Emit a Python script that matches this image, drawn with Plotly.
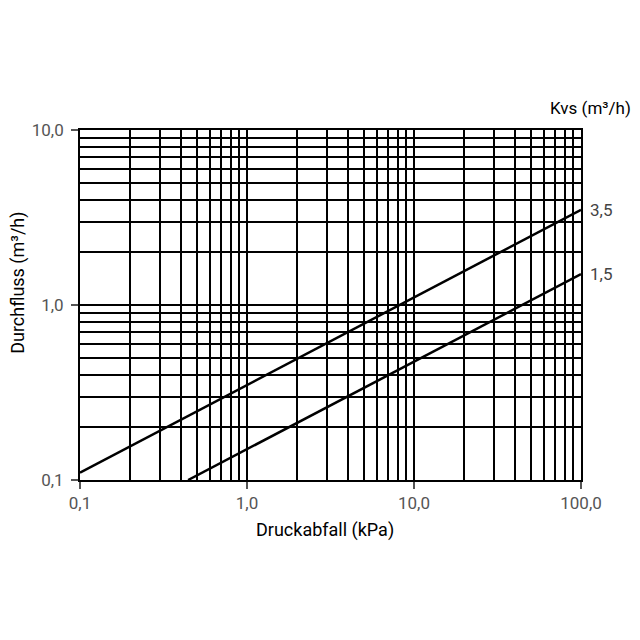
import math
import plotly.graph_objects as go

# Data (log-log, straight lines)
kvs_labels = ["3,5", "1,5"]
dp_kvs35 = [0.1, 100.0]
q_kvs35 = [0.11, 3.5]
dp_kvs15 = [0.444, 100.0]
q_kvs15 = [0.1, 1.5]

x_major = [0.1, 1.0, 10.0, 100.0]
x_major_text = ["0,1", "1,0", "10,0", "100,0"]
y_major = [0.1, 1.0, 10.0]
y_major_text = ["0,1", "1,0", "10,0"]

x_minor = [m * d for d in (0.1, 1.0, 10.0) for m in range(2, 10)]
y_minor = [m * d for d in (0.1, 1.0) for m in range(2, 10)]

FONT = "Roboto"
fig = go.Figure()
for dp, q in ((dp_kvs35, q_kvs35), (dp_kvs15, q_kvs15)):
    fig.add_trace(go.Scatter(x=dp, y=q, mode="lines",
                             line=dict(color="black", width=2.5),
                             showlegend=False, hoverinfo="skip"))

for lab, q in zip(kvs_labels, (q_kvs35[-1], q_kvs15[-1])):
    fig.add_annotation(x=1, xref="paper", y=math.log10(q), yref="y", text=lab,
                       showarrow=False, xanchor="left", yanchor="middle",
                       xshift=7, font=dict(family=FONT, size=17, color="#444"))

fig.add_annotation(x=1.104, xref="paper", y=1.063, yref="paper",
                   text="Kvs (m³/h)", showarrow=False, xanchor="right",
                   yanchor="middle", font=dict(family=FONT, size=17, color="black"))
fig.add_annotation(x=0.489, xref="paper", y=-0.143, yref="paper",
                   text="Druckabfall (kPa)", showarrow=False, xanchor="center",
                   yanchor="middle", font=dict(family=FONT, size=18, color="black"))
fig.add_annotation(x=-0.124, xref="paper", y=0.563, yref="paper",
                   text="Durchfluss (m³/h)", showarrow=False, textangle=-90,
                   xanchor="center", yanchor="middle",
                   font=dict(family=FONT, size=18, color="black"))

axis_common = dict(type="log", showline=True, linecolor="black", linewidth=1.8,
                   mirror=True, showgrid=True, gridcolor="black", gridwidth=1.8,
                   ticks="outside", ticklen=7, tickwidth=1.5, tickcolor="#555",
                   zeroline=False, tickfont=dict(family=FONT, size=17, color="#555"))

fig.update_xaxes(**axis_common, range=[-1, 2], tickmode="array",
                 tickvals=x_major, ticktext=x_major_text,
                 minor=dict(tickmode="array", tickvals=x_minor, showgrid=True,
                            gridcolor="black", gridwidth=1.5, ticks=""))
fig.update_yaxes(**axis_common, range=[-1, 1], tickmode="array",
                 tickvals=y_major, ticktext=y_major_text, ticklabelstandoff=4,
                 minor=dict(tickmode="array", tickvals=y_minor, showgrid=True,
                            gridcolor="black", gridwidth=1.5, ticks=""))

fig.update_layout(width=640, height=640, plot_bgcolor="white", paper_bgcolor="white",
                  margin=dict(l=80, r=59, t=130, b=160), showlegend=False)

fig.write_html("out.html")
